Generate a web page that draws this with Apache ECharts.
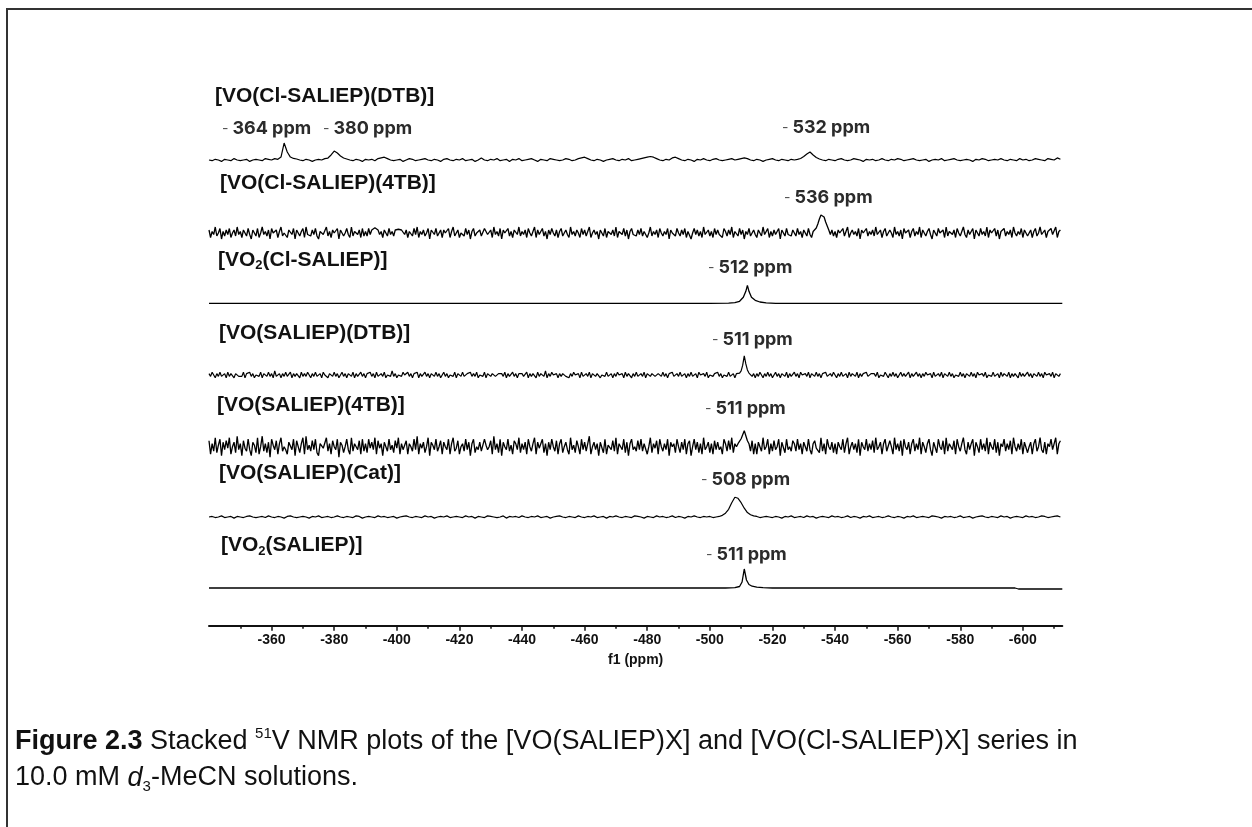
<!DOCTYPE html>
<html>
<head>
<meta charset="utf-8">
<script src="https://cdn.jsdelivr.net/npm/echarts@6/dist/echarts.min.js"></script>
<style>
html,body{margin:0;padding:0;background:#fff;}
#chart{width:1252px;height:827px;}
</style>
</head>
<body>
<div id="chart"></div>
<script>
// 51V NMR spectra, chemical shift axis in ppm (values decrease to the right)
const spectrumNames = [
  '[VO(Cl-SALIEP)(DTB)]',
  '[VO(Cl-SALIEP)(4TB)]',
  '[VO2(Cl-SALIEP)]',
  '[VO(SALIEP)(DTB)]',
  '[VO(SALIEP)(4TB)]',
  '[VO(SALIEP)(Cat)]',
  '[VO2(SALIEP)]'
];

// peak shifts annotated on each trace (ppm, shown with a leading minus sign)
const peakShifts = [[364, 380, 532], [536], [512], [511], [511], [508], [511]];

// axis tick values
const majorTicks = [-360, -380, -400, -420, -440, -460, -480, -500, -520, -540, -560, -580, -600];
const minorTicks = [-350, -370, -390, -410, -430, -450, -470, -490, -510, -530, -550, -570, -590, -610];

// sampled intensities (arbitrary units), first point at -340 ppm
// [VO(Cl-SALIEP)(DTB)] : 1 ppm per point
const clDtb = [
  0,-0.5,0.5,0,-1,0.5,0,-0.5,1,0,-0.5,0,0.5,-1,0,0.5,0,-0.5,1,0.5,
  0,1,0.5,2.1,12.1,5.7,2.1,1.1,0.7,0,-0.5,0.5,0,-1,0,0.5,0,1,1.4,3.6,
  6.4,5,2.9,1.4,0.7,0,-0.5,0.5,0,-1,0.5,0,0.5,-0.5,1,1.5,2,1,0,-0.5,
  0,0.5,-1,0,1,0.5,-0.5,0,0.5,1,0,-0.5,0.5,0,-1,0.5,1,0,-0.5,0.5,
  0,1,-0.5,0,0.5,-1,0,1.5,0,-0.5,0.5,0,1,-0.5,0,0.5,-1,0.5,0,1,
  -0.5,0,0.5,1,0,-1,0.5,0,-0.5,1,0.5,0,-0.5,0,1,0.5,-0.5,0,1,1.5,
  2,1,0,-0.5,0.5,0,-1,0,0.5,1,0,-0.5,0.5,0,1,-0.5,0,0.5,1,1.5,
  2,2.5,2,1,0,-0.5,0.5,0,1.5,2,1,0,-0.5,0.5,0,-1,0.5,0,1,0,
  -0.5,0.5,1,0,-0.5,0,0.5,1,0,0.5,1,1.5,1,0,-0.5,0.5,0,-1,0,0.5,
  1,0,-0.5,0.5,0,-0.5,0.5,0,0.4,1.1,2.5,4.3,5.7,3.6,1.8,0.7,0,-0.5,0.5,0,
  -0.5,0.5,1,0,-0.5,0,1,0.5,0,-1,0.5,0,0.5,-0.5,0,1,0,-0.5,0.5,0,
  1,0.5,-0.5,0,0.5,1,0,-0.5,0,0.5,-1,0,0.5,0,1,-0.5,0,0.5,1,0,
  -0.5,0,0.5,0,-1,0.5,0,1,0.5,-0.5,0,0.5,0,1,0,-0.5,0.5,0,-0.5,1,
  0,0.5,-0.5,0,1,0.5,0,-0.5,1,0.5,0,1.5,0.5
];

// [VO(Cl-SALIEP)(4TB)] : 0.5 ppm per point
const cl4tb = [
  2,-3,1,-1,4,-2,0,3,-4,1,-2,2,-1,3,-3,0,2,-2,4,-1,1,-3,2,0,-2,
  3,-1,-4,2,1,-2,3,-3,0,4,-1,1,-2,2,-4,3,0,-1,2,-3,1,4,-2,0,-1,
  -3,2,1,-1,3,-4,2,0,-2,1,3,-3,4,-1,0,-2,2,-1,3,-2,-4,1,2,-1,0,
  4,-2,1,-3,2,0,-1,3,-4,2,1,-2,0,3,-1,-3,4,-2,1,0,-1,2,-3,3,-2,
  1,-2,3,-1,2,2,3.5,2.5,2,-1,1,-3,2,0,-2,3,-1,1,-2,2,3,2.5,3.5,2,1,
  -1,2,-3,1,0,-2,3,-1,4,-3,1,-1,2,-2,0,3,-4,2,1,-1,3,-2,0,2,-3,
  2,0,-1,3,-3,1,4,-2,-1,2,-3,0,1,-2,3,-1,2,-4,1,3,-2,0,-1,2,-2,
  -2,3,1,-1,0,2,-3,4,-1,1,-2,3,-4,2,0,-1,3,-2,1,-3,2,1,-1,4,-2,
  1,-1,2,-3,3,0,-2,1,4,-3,2,-1,0,3,-2,1,-4,2,-1,3,0,-2,2,-3,1,
  3,-2,0,2,-1,-3,4,-1,1,-2,2,0,-3,3,-1,2,-2,1,4,-3,0,2,-1,1,-4,
  2,1,-2,3,-3,1,0,-1,2,-2,4,-3,1,0,-1,3,-2,2,-4,1,3,-1,0,-2,2,
  -1,3,-2,1,2,-3,0,4,-2,1,-1,2,-3,3,0,-2,1,-1,3,-4,2,0,1,-2,3,
  0,-2,2,-1,3,-3,1,2,-4,0,3,-1,2,-2,1,-3,4,-1,0,2,-2,1,-3,3,-1,
  2,-1,0,-3,3,1,-2,2,-1,4,-3,1,0,-2,3,-1,2,-4,1,-1,3,-2,0,2,-1,
  -3,2,1,-2,4,-1,0,3,-3,1,-2,2,-1,0,3,-4,2,1,-2,3,-1,0,-2,2,1,
  -2,3,-1,1,-3,2,0,-2,3,-1,-3,1,1.3,3.3,6,9.3,12,12.7,10.7,7.3,4.7,2,-1,2,-2,
  1,-3,2,0,-1,3,-2,1,4,-3,0,2,-1,1,-2,3,-4,2,0,-1,3,-2,1,-1,2,
  -2,4,-1,0,2,-3,1,3,-2,-1,2,0,-3,4,-1,1,-2,2,-4,3,0,-1,2,-3,1,
  3,-2,1,-1,4,-3,2,0,-2,1,3,-1,-4,2,1,-2,3,0,-1,2,-3,4,-2,1,0,
  -1,2,-3,3,0,-2,1,4,-1,-3,2,-1,1,3,-4,2,0,-2,3,-1,1,-2,4,-3,2,
  0,-1,3,-2,2,-4,1,0,3,-2,1,-1,2,-3,4,0,-2,1,-1,3,-3,2,1,-2,0,
  2,-3,1,3,-2,0,4,-1,-2,2,-3,1,0,3,-1,-2,4,-3,1,2
];

// [VO2(Cl-SALIEP)] : smooth trace, explicit ppm points
const vo2ClPpm = [-340, -420, -500, -506, -508, -509.5, -510.7, -511.5, -512, -512.5, -513.3, -514.5, -516, -518, -521, -580, -612.6];
const vo2ClInt = [0, 0, 0, 0.2, 0.6, 2, 6, 12, 18, 12, 6, 3, 1.3, 0.5, 0, 0, 0];

// [VO(SALIEP)(DTB)] : 0.5 ppm per point
const saDtb = [
  1,-1,2,0,-2,1,-1,2,-1,0,1,-2,2,-1,1,0,-2,1,2,-1,0,-1,2,-2,1,
  0,2,-1,1,-2,0,1,-1,2,-2,1,0,-1,2,-1,1,-2,3,-1,0,1,-2,1,-1,2,
  -1,0,2,-2,1,-1,1,0,-2,2,-1,1,-1,2,0,-2,1,-1,2,-1,0,1,-2,2,0,
  1,-2,1,0,-1,2,-1,1,-2,0,2,-1,1,-2,1,0,-1,2,-2,1,-1,0,2,-1,1,
  -2,1,0,2,-1,1,-2,2,-1,0,1,-1,2,-2,0,1,-1,3,-1,1,-2,0,1,-1,2,
  0,-1,2,-1,1,-2,1,0,2,-2,1,-1,0,2,-1,1,-2,1,0,-1,2,-1,1,-2,0,
  2,-1,1,-2,0,1,-1,2,-2,1,0,-1,2,-1,-2,1,0,2,-1,1,-1,2,-2,0,1,
  -1,2,-2,1,0,-1,1,2,-1,-2,1,0,1,-1,2,-2,1,-1,0,2,-1,1,-2,1,0,
  1,-1,0,2,-2,1,-1,1,0,-2,2,-1,1,0,-1,3,-2,1,-1,2,0,-1,1,-2,1,
  -1,1,2,-1,0,-2,1,-1,2,0,-1,1,-2,2,-1,0,1,-1,2,-2,1,0,-1,1,2,
  -2,0,1,-1,2,-1,0,1,-2,1,-1,2,0,-1,1,-2,2,-1,1,0,-2,1,-1,2,-1,
  0,1,-1,2,-2,1,0,-1,1,2,-1,-2,1,0,-1,2,-1,1,-2,1,0,2,-1,0,1,
  -1,2,-1,0,1,-2,1,-1,2,-1,0,1,-2,2,0,-1,1,-1,2,-2,0,1,-1,1,0,
  2,-1,1,-2,0,1,-1,2,-1,0,1,-2,1,0,1.4,2.9,7,13.6,7.9,3.6,1.4,0,-1,1,-2,
  1,-1,2,0,-2,1,-1,2,-1,1,-2,0,2,-1,1,-2,1,0,-1,2,-2,1,-1,0,2,
  -1,1,-2,2,0,-1,1,-1,2,-2,1,0,-1,2,-1,1,-2,1,0,2,-1,-2,1,-1,2,
  0,-2,1,-1,2,-1,0,1,-2,2,-1,1,0,-1,2,-2,1,-1,1,0,2,-1,-2,1,0,
  1,-1,2,-2,0,1,-1,2,0,-2,1,-1,2,-1,1,-2,0,2,-1,1,-1,0,2,-2,1,
  -1,0,2,-1,1,-2,1,-1,2,0,-1,1,-2,2,-1,0,1,-1,2,-2,1,0,-1,2,-1,
  1,-2,0,1,-1,2,-1,1,-2,1,0,-1,2,-1,1,-2,2,0,-1,1,-1,2,-2,0,1,
  -1,2,-1,0,1,-2,2,-1,1,0,-1,2,-2,1,-1,1,0,-2,2,-1,1,-1,0,2,-1,
  1,-2,1,0,-1,2,-1,1,-2,2,0,-1,1,-1,2,-2,1,0,-1,1
];

// [VO(SALIEP)(4TB)] : 0.5 ppm per point
const sa4tb = [
  4,-5,2,-3,6,-4,1,5,-6,3,-2,4,-1,6,-5,0,3,-4,7,-2,2,-6,4,-1,-3,
  5,-2,-6,3,1,-4,6,-5,0,7,-3,2,-4,3,-7,5,1,-2,4,-5,2,6,-3,0,-2,
  -5,3,2,-2,5,-6,4,0,-4,2,6,-5,7,-2,1,-3,4,-2,5,-4,-6,2,3,-1,0,
  6,-3,2,-5,4,0,-2,5,-7,3,1,-4,0,5,-2,-5,6,-3,2,0,-2,4,-5,5,-3,
  2,-4,5,-1,3,-2,6,-5,4,-1,2,-6,3,0,-3,5,-2,1,-4,4,-1,6,-5,2,-2,
  -2,4,-5,2,0,-3,5,-2,7,-5,2,-1,3,-4,0,6,-6,3,1,-2,5,-3,0,4,-5,
  3,0,-2,5,-5,2,6,-3,-1,4,-5,0,2,-3,5,-2,3,-6,2,5,-4,0,-2,3,-3,
  -3,5,1,-2,0,4,-5,7,-2,2,-4,5,-6,3,0,-2,5,-3,1,-5,4,2,-2,6,-4,
  2,-2,3,-5,5,0,-3,2,6,-5,3,-1,0,5,-4,2,-6,3,-2,5,0,-3,4,-5,2,
  5,-4,0,3,-2,-5,6,-2,1,-4,4,0,-5,5,-2,3,-3,2,7,-5,0,3,-2,2,-6,
  3,2,-4,5,-5,1,0,-2,4,-3,6,-5,2,0,-2,5,-4,3,-6,2,5,-2,0,-3,4,
  -2,5,-3,2,3,-5,0,6,-4,2,-1,4,-5,5,0,-3,2,-2,5,-6,3,0,2,-4,5,
  0,-4,3,-2,5,-5,2,4,-6,0,5,-2,3,-4,2,-5,6,-2,0,3,-4,2,-5,4,-2,
  3,-2,0,-5,5,2,-3,4,-2,6,-4,2,0,2,3.3,5.3,8,10.7,7.3,4,2,-3,4,-5,2,
  -5,3,2,-3,6,-2,0,5,-5,2,-3,4,-2,0,5,-6,3,2,-4,5,-2,0,-3,4,2,
  -3,5,-2,2,-5,3,0,-3,5,-2,-5,2,4,-1,0,-4,6,-3,2,-5,5,0,-2,3,-4,
  2,-5,3,0,-2,5,-4,2,6,-5,0,3,-2,2,-4,5,-6,3,0,-2,5,-3,2,-2,4,
  -4,6,-2,0,3,-5,2,5,-3,-2,4,0,-5,6,-2,2,-3,4,-6,5,0,-2,3,-5,2,
  5,-3,2,-2,6,-5,3,0,-4,2,5,-2,-6,3,2,-4,5,0,-2,4,-5,6,-3,2,0,
  -2,4,-5,5,0,-3,2,6,-2,-5,3,-2,2,5,-6,3,0,-4,5,-2,2,-3,6,-5,3,
  0,-2,5,-4,3,-6,2,0,5,-3,2,-2,4,-5,6,0,-3,2,-2,5,-5,3,2,-4,0,
  3,-5,2,5,-3,0,6,-2,-4,3,-5,2,0,5,-2,-3,6,-5,2,4
];

// [VO(SALIEP)(Cat)] : 1 ppm per point
const saCat = [
  0,0.5,-0.5,0,1,-0.5,0,0.5,-1,0.5,0,-0.5,0.5,1,0,-0.5,0,0.5,-0.5,1,
  0,-0.5,0.5,0,-1,0.5,1,0,-0.5,0,0.5,0,-1,0.5,0,1,-0.5,0,0.5,-0.5,
  0,1,0,-0.5,0.5,0,-0.5,1,0.5,-1,0,0.5,0,-0.5,1,0,0.5,-0.5,0,0.5,
  -1,0,0.5,1,0,-0.5,0.5,0,-0.5,1,0,0.5,-1,0,0.5,0,1,-0.5,0,0.5,
  0,-0.5,1,0,0.5,-1,0.5,0,-0.5,1,0.5,0,-0.5,0,1,-1,0.5,0,0.5,-0.5,
  1,0,-0.5,0.5,0,1,-0.5,0,0.5,-1,0,0.5,1,0,-0.5,0.5,0,-0.5,1,0,
  -0.5,0.5,0,1,-0.5,0,0.5,-1,0.5,0,1,0,-0.5,0.5,0,-0.5,1,0.5,0,-1,
  0.5,0,-0.5,1,0,0.5,-0.5,0,1,-0.5,0.5,0,-1,0.5,0,1,0,-0.5,0.5,0,
  0.5,-0.5,0,0.5,1.5,3.5,7,13,18,17,13,8,4,2,1,0.5,-0.5,0,0.5,0,
  -0.5,0.5,0,-1,0.5,0,1,-0.5,0,0.5,-0.5,1,0,0.5,-1,0,0.5,0,-0.5,1,
  0,0.5,-0.5,0,1,-0.5,0.5,0,-1,0.5,0,1,-0.5,0,0.5,-0.5,0,1,0,-0.5,
  0.5,0,-1,0.5,0,1,-0.5,0,0.5,0,-0.5,1,0.5,0,-1,0.5,0,0.5,-0.5,0,
  1,-0.5,0,0.5,-1,0,0.5,1,0,-0.5,0.5,0,-0.5,1,0,0.5,-1,0,0.5,0,
  -0.5,1,0,0.5,-0.5,0,1,0.5,-0.5,0,0.5,1,0
];

// [VO2(SALIEP)] : smooth trace, explicit ppm points
const vo2Ppm = [-340, -420, -505, -508, -509.5, -510.3, -511, -511.7, -512.5, -513.5, -515, -517, -520, -560, -597.5, -598, -598.6, -612.6];
const vo2Int = [0, 0, 0, 0.3, 1.5, 6, 19, 8, 3.5, 1.8, 0.8, 0.3, 0, 0, 0, 0.6, -1, -1];

// ---- layout ----
const AXIS_START = -340;
const X_LEFT = -340, X_RIGHT = -612.6;
const PLOT_LEFT = 209, PLOT_RIGHT = 1062.3;
const traceBaselines = [160, 233, 303.3, 375, 446.7, 517, 588];
const tracePxPerUnit = [1.4, 1.5, 1, 1.4, 1.5, 1.1, 1];
const traceWidths = [1.2, 1.3, 1.3, 1.2, 1.3, 1.2, 1.3];
const nameAnchors = [[215, 96.5], [220, 183], [218, 260], [219, 333], [217, 405], [219, 473], [221, 545.5]];
const peakLabelAnchors = [[[222, 129], [323, 129], [782, 127.7]], [[784, 197.3]], [[708, 267.3]], [[712, 340]], [[705, 409]], [[701, 480]], [[706, 554.3]]];

function sampled(values, step) {
  return values.map((v, i) => [AXIS_START - i * step, v]);
}
function zipped(xs, ys) {
  return xs.map((x, i) => [x, ys[i]]);
}

const traces = [
  sampled(clDtb, 1),
  sampled(cl4tb, 0.5),
  zipped(vo2ClPpm, vo2ClInt),
  sampled(saDtb, 0.5),
  sampled(sa4tb, 0.5),
  sampled(saCat, 1),
  zipped(vo2Ppm, vo2Int)
];

const grids = [], xAxes = [], yAxes = [], series = [];
const gridRight = 1252 - PLOT_RIGHT;
const GRID_H = 40, ABOVE = 28;

traces.forEach((data, k) => {
  const s = tracePxPerUnit[k];
  grids.push({ left: PLOT_LEFT, right: gridRight, top: traceBaselines[k] - ABOVE, height: GRID_H });
  xAxes.push({ type: 'value', gridIndex: k, min: X_RIGHT, max: X_LEFT, inverse: true, show: false });
  yAxes.push({ type: 'value', gridIndex: k, min: -(GRID_H - ABOVE) / s, max: ABOVE / s, show: false });
  series.push({
    type: 'line', xAxisIndex: k, yAxisIndex: k, data: data,
    showSymbol: false, symbol: 'none', clip: false, silent: true,
    lineStyle: { color: '#000', width: traceWidths[k] }
  });
});

// shared chemical-shift axis: major ticks with labels, then minor ticks
const axisGrid = traces.length;
grids.push({ left: PLOT_LEFT, right: gridRight, top: 585, height: 40.7 });
grids.push({ left: PLOT_LEFT, right: gridRight, top: 585, height: 40.7 });
xAxes.push({
  type: 'value', gridIndex: axisGrid, min: X_RIGHT, max: X_LEFT, inverse: true, position: 'bottom',
  axisLine: { show: true, lineStyle: { color: '#111', width: 2 } },
  axisTick: { show: true, length: 5, customValues: majorTicks, lineStyle: { color: '#111', width: 1.5 } },
  axisLabel: {
    customValues: majorTicks, margin: 7, color: '#111',
    fontFamily: 'Liberation Sans', fontWeight: 'bold', fontSize: 14,
    formatter: v => String(v)
  },
  splitLine: { show: false },
  name: 'f1 (ppm)', nameLocation: 'middle', nameGap: 27,
  nameTextStyle: { fontFamily: 'Liberation Sans', fontWeight: 'bold', fontSize: 14, color: '#111' }
});
yAxes.push({ type: 'value', gridIndex: axisGrid, show: false });
xAxes.push({
  type: 'value', gridIndex: axisGrid + 1, min: X_RIGHT, max: X_LEFT, inverse: true, position: 'bottom',
  axisLine: { show: false },
  axisTick: { show: true, length: 3, customValues: minorTicks, lineStyle: { color: '#111', width: 1.5 } },
  axisLabel: { show: false },
  splitLine: { show: false }
});
yAxes.push({ type: 'value', gridIndex: axisGrid + 1, show: false });

// text overlays
const graphics = [];
graphics.push({
  type: 'polyline', silent: true,
  shape: { points: [[7, 827], [7, 9], [1252, 9]] },
  style: { stroke: '#333', lineWidth: 2, fill: null }
});

function nameRich(name) {
  const idx = name.indexOf('VO2');
  if (idx < 0) return '{t|' + name + '}';
  return '{t|' + name.slice(0, idx) + 'VO}{s|2}{t|' + name.slice(idx + 3) + '}';
}

spectrumNames.forEach((n, k) => {
  graphics.push({
    type: 'text', x: nameAnchors[k][0], y: nameAnchors[k][1], silent: true,
    style: {
      text: nameRich(n), verticalAlign: 'middle', align: 'left',
      rich: {
        t: { fontFamily: 'Liberation Sans', fontWeight: 'bold', fontSize: 21, fill: '#111', lineHeight: 24 },
        s: { fontFamily: 'Liberation Sans', fontWeight: 'bold', fontSize: 13, fill: '#111', verticalAlign: 'bottom', lineHeight: 20 }
      }
    }
  });
});

peakShifts.forEach((list, k) => {
  list.forEach((v, j) => {
    const a = peakLabelAnchors[k][j];
    graphics.push({
      type: 'text', x: a[0], y: a[1], silent: true,
      style: {
        text: '{d|-} {n|' + v + ' ppm}', verticalAlign: 'middle', align: 'left',
        fontFamily: 'Inter', fontSize: 14, fill: '#555',
        rich: {
          d: { fontFamily: 'Inter', fontSize: 14, fill: '#555' },
          n: { fontFamily: 'Inter', fontWeight: 'bold', fontSize: 18, fill: '#2b2b2b' }
        }
      }
    });
  });
});

// figure caption
const capBase = { fontFamily: 'Liberation Sans', fontSize: 27, fill: '#111', lineHeight: 32 };
graphics.push({
  type: 'text', x: 15, y: 742, silent: true,
  style: Object.assign({
    text: '{b|Figure 2.3} Stacked {sup|51}V NMR plots of the [VO(SALIEP)X] and [VO(Cl-SALIEP)X] series in',
    verticalAlign: 'middle', align: 'left',
    rich: {
      b: Object.assign({}, capBase, { fontWeight: 'bold' }),
      sup: { fontFamily: 'Liberation Sans', fontSize: 15, fill: '#111', verticalAlign: 'top', lineHeight: 32 }
    }
  }, capBase)
});
graphics.push({
  type: 'text', x: 15, y: 778, silent: true,
  style: Object.assign({
    text: '10.0 mM {i|d}{sub|3}-MeCN solutions.',
    verticalAlign: 'middle', align: 'left',
    rich: {
      i: Object.assign({}, capBase, { fontStyle: 'italic' }),
      sub: { fontFamily: 'Liberation Sans', fontSize: 15, fill: '#111', verticalAlign: 'bottom', lineHeight: 28 }
    }
  }, capBase)
});

const chart = echarts.init(document.getElementById('chart'), null, { renderer: 'canvas' });
chart.setOption({
  animation: false,
  backgroundColor: '#fff',
  grid: grids,
  xAxis: xAxes,
  yAxis: yAxes,
  series: series,
  graphic: graphics
});
</script>
</body>
</html>
